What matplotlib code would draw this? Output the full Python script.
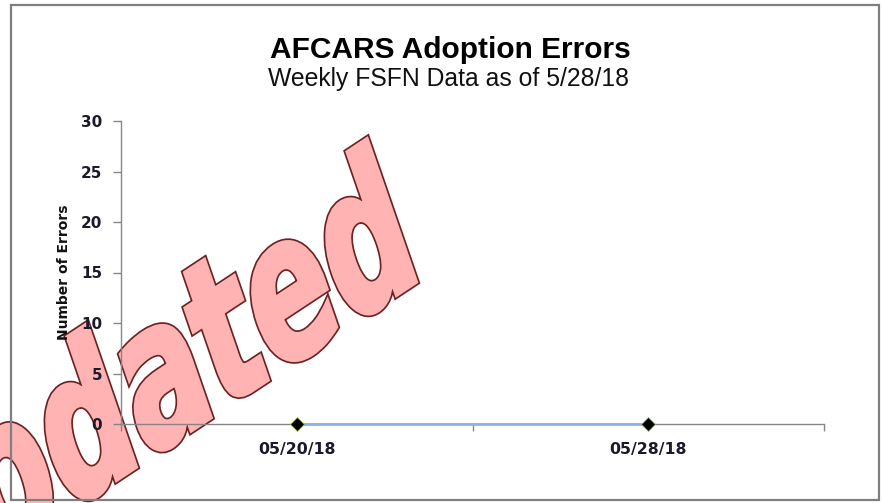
import numpy as np
import matplotlib
matplotlib.use("Agg")
import matplotlib.pyplot as plt
from matplotlib.patches import Rectangle, PathPatch
from matplotlib.textpath import TextPath
from matplotlib.font_manager import FontProperties
from matplotlib.transforms import Affine2D

# ---- data ----
categories = ["05/20/18", "05/28/18"]
errors = [0, 0]
y_ticks = [0, 5, 10, 15, 20, 25, 30]

title = "AFCARS Adoption Errors"
subtitle = "Weekly FSFN Data as of 5/28/18"
ylabel = "Number of Errors"
watermark = "Updated"

W, H = 883, 503
fig = plt.figure(figsize=(W / 100, H / 100), dpi=100)
fig.patch.set_facecolor("white")

# outer frame
fig.add_artist(Rectangle((11 / W, 1 - 500 / H), (879 - 11) / W, (500 - 5) / H,
                         transform=fig.transFigure, fill=False,
                         edgecolor="#7f7f7f", linewidth=1.6, zorder=1))

ax = fig.add_axes([121 / W, 1 - 424 / H, (824 - 121) / W, (424 - 121) / H])
ax.patch.set_visible(False)
x = np.arange(len(categories))
ax.plot(x, errors, color="#8DB4E2", linewidth=2, zorder=3, clip_on=False)
ax.plot(x, errors, linestyle="none", marker="D", markersize=7,
        markerfacecolor="black", markeredgecolor="#9BBB59",
        markeredgewidth=0.6, zorder=4, clip_on=False)

ax.set_xlim(-0.5, len(categories) - 0.5)
ax.set_ylim(0, 30)
ax.set_yticks(y_ticks)
ax.set_yticklabels([str(v) for v in y_ticks])

# major ticks between categories, labels on minor ticks
ax.set_xticks(np.arange(-0.5, len(categories), 1.0))
ax.set_xticklabels([])
ax.set_xticks(x, minor=True)
ax.set_xticklabels(categories, minor=True)

for s in ["top", "right"]:
    ax.spines[s].set_visible(False)
for s in ["left", "bottom"]:
    ax.spines[s].set_color("#868686")
    ax.spines[s].set_linewidth(1.0)

ax.tick_params(axis="y", direction="out", length=6, width=1, color="#868686",
               pad=7.5, labelcolor="#1a1a2a")
ax.tick_params(axis="x", which="major", direction="out", length=5, width=1,
               color="#868686")
ax.tick_params(axis="x", which="minor", length=0, pad=13, labelcolor="#1a1a2a")
for lab in ax.get_yticklabels():
    lab.set_fontproperties(FontProperties(family="DejaVu Sans", weight="bold", size=11))
for lab in ax.get_xticklabels(minor=True):
    lab.set_fontproperties(FontProperties(family="DejaVu Sans", weight="bold", size=11.3))

fig.text(64 / W, 1 - 272 / H, ylabel, rotation=90, ha="center", va="center",
         family="DejaVu Sans", weight="bold", size=10, color="#111111", zorder=5)

fig.text(450 / W, 1 - 58 / H, title, ha="center", va="baseline",
         family="Liberation Sans", weight="bold", size=21.5, color="black")
fig.text(449 / W, 1 - 86 / H, subtitle, ha="center", va="baseline",
         family="Liberation Sans", size=17.8, color="#111111")

# ---- watermark ("Updated" WordArt, skewed & rotated, emboldened) ----
fp = FontProperties(family="DejaVu Sans", weight="bold")
tp = TextPath((0, 0), watermark, size=1, prop=fp)
x_first_d = TextPath((0, 0), watermark[:3], size=1, prop=fp).get_extents().x1
x_last_d = tp.get_extents().x1
h_d = TextPath((0, 0), "d", size=1, prop=fp).get_extents().y1

emb = 2.0  # px of emboldening on each side
p1 = np.array([138.0 - emb, H - 467.0])
p2 = np.array([418.0 - emb, H - 282.0])
base = p2 - p1
ang_u = np.arctan2(base[1], base[0])
sx = np.hypot(*base) / (x_last_d - x_first_d)
ang_v = np.deg2rad(109.0)
sy = (155.0 - 2 * emb) / h_d
a, c = np.cos(ang_u) * sx, np.sin(ang_u) * sx
b, d = np.cos(ang_v) * sy, np.sin(ang_v) * sy
tx = p1[0] - a * x_first_d
ty = p1[1] - c * x_first_d
mtx = np.array([[a, b, tx], [c, d, ty], [0, 0, 1]])
px2pt = 72.0 / 100.0
outline = PathPatch(tp, transform=Affine2D(mtx), facecolor="#6B2222",
                    edgecolor="#6B2222", linewidth=(2 * emb + 3.4) * px2pt,
                    joinstyle="miter", zorder=-2)
fill = PathPatch(tp, transform=Affine2D(mtx), facecolor="#FFB3B3",
                 edgecolor="#FFB3B3", linewidth=2 * emb * px2pt,
                 joinstyle="miter", zorder=-1)
fig.add_artist(outline)
fig.add_artist(fill)

fig.savefig("out.png", dpi=100, facecolor="white")
